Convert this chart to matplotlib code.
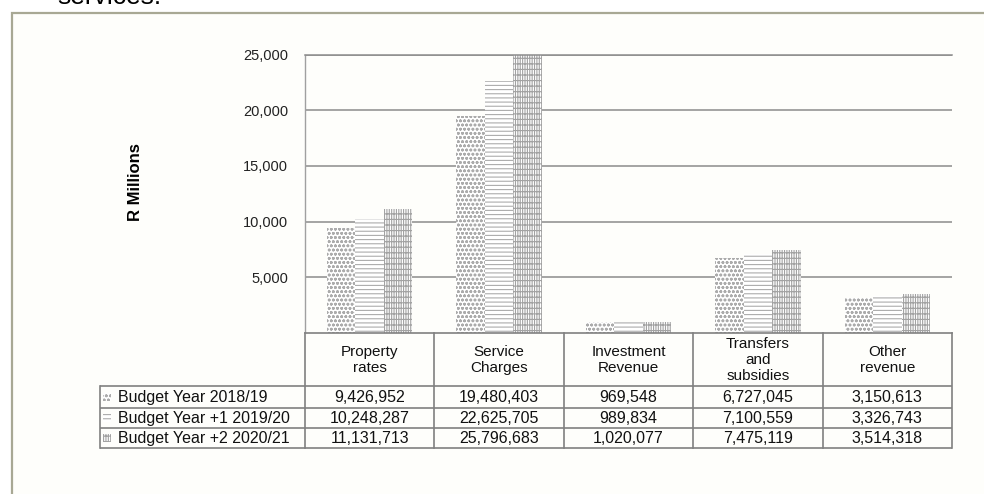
import matplotlib
matplotlib.use("Agg")
import matplotlib.pyplot as plt
from matplotlib.patches import Rectangle
from matplotlib.ticker import FuncFormatter

plt.rcParams['font.family'] = ['Liberation Sans', 'DejaVu Sans']
plt.rcParams['hatch.linewidth'] = 0.8

# Revenue by source (R thousands as budgeted; axis reads in R millions scale)
categories = ["Property\nrates", "Service\nCharges", "Investment\nRevenue",
              "Transfers\nand\nsubsidies", "Other\nrevenue"]
series_names = ["Budget Year 2018/19", "Budget Year +1 2019/20", "Budget Year +2 2020/21"]
year_2018 = [9426952, 19480403, 969548, 6727045, 3150613]
year_2019 = [10248287, 22625705, 989834, 7100559, 3326743]
year_2020 = [11131713, 25796683, 1020077, 7475119, 3514318]
y_ticks = [5000, 10000, 15000, 20000, 25000]

series = [year_2018, year_2019, year_2020]
hatches = ['oooo', '----', '|||||||---']
hatch_colors = ['#ababab', '#acacac', '#a2a2a2']

W, H = 984, 494
fig = plt.figure(figsize=(W / 100, H / 100), dpi=100)
fig.patch.set_facecolor('white')

# pixel-space overlay for the frame and the data table
ov = fig.add_axes([0, 0, 1, 1], zorder=0)
ov.set_xlim(0, W)
ov.set_ylim(H, 0)
ov.axis('off')
ov.add_patch(Rectangle((11.5, 13), 1000, 500, facecolor='#fefefb',
                       edgecolor='#a8a894', lw=1.6))
ov.text(57, 4, "services.", fontsize=19, va='baseline', ha='left', color='black')

# plot area geometry in pixels
px_left, px_right, px_top, px_bottom = 305, 952, 54.5, 333
ax = fig.add_axes([px_left / W, (H - px_bottom) / H,
                   (px_right - px_left) / W, (px_bottom - px_top) / H], zorder=1)
ax.set_facecolor('none')

n = len(categories)
bw = 0.22
offsets = [-bw, 0, bw]
for vals, off, hatch, hc in zip(series, offsets, hatches, hatch_colors):
    xs = [i + off for i in range(n)]
    ax.bar(xs, [v / 1000 for v in vals], width=bw, facecolor='white',
           edgecolor=hc, hatch=hatch, linewidth=0, zorder=2)

ax.set_xlim(-0.5, n - 0.5)
ax.set_ylim(0, 25000)
ax.set_xticks([])
ax.set_yticks(y_ticks)
ax.yaxis.set_major_formatter(FuncFormatter(lambda v, p: f"{int(v):,}"))
ax.tick_params(axis='y', length=0, pad=12, labelsize=10.5, labelcolor='#222222')
ax.yaxis.grid(True, color='#8c8c8c', lw=1.1, zorder=0)
ax.set_axisbelow(True)
ax.spines['right'].set_visible(False)
ax.spines['top'].set_color('#8c8c8c')
ax.spines['top'].set_linewidth(1.1)
ax.spines['left'].set_color('#a0a0a0')
ax.spines['left'].set_linewidth(1.0)
ax.spines['bottom'].set_color('#808080')
ax.spines['bottom'].set_linewidth(1.2)

fig.text(135 / W, 1 - 182 / H, "R Millions", rotation=90, fontsize=12,
         fontweight='bold', ha='center', va='center')

# data table below the plot
col_w = (px_right - px_left) / n
edges = [px_left + i * col_w for i in range(n + 1)]
tab_left = 100
row_lines = [386, 408, 428, 448]
lc = '#808080'
lw = 1.2
for y in row_lines:
    ov.plot([tab_left, px_right], [y, y], color=lc, lw=lw, solid_capstyle='butt')
for x in edges:
    ov.plot([x, x], [px_bottom, row_lines[-1]], color=lc, lw=lw)
ov.plot([tab_left, tab_left], [row_lines[0], row_lines[-1]], color=lc, lw=lw)

for i, cat in enumerate(categories):
    cx = (edges[i] + edges[i + 1]) / 2
    ov.text(cx, (px_bottom + row_lines[0]) / 2 + 0.5, cat, ha='center', va='center',
            fontsize=11, linespacing=1.18, color='#111111')

for r, (name, vals, hatch, hc) in enumerate(zip(series_names, series, hatches, hatch_colors)):
    cy = (row_lines[r] + row_lines[r + 1]) / 2
    ov.add_patch(Rectangle((103, cy - 4), 8, 8, facecolor='white', edgecolor=hc,
                           hatch=hatch, lw=0))
    ov.text(118, cy, name, ha='left', va='center', fontsize=11.5, color='#111111')
    for i, v in enumerate(vals):
        cx = (edges[i] + edges[i + 1]) / 2
        ov.text(cx, cy, f"{v:,}", ha='center', va='center', fontsize=11.5,
                color='#111111')

fig.savefig("out.png", dpi=100)
